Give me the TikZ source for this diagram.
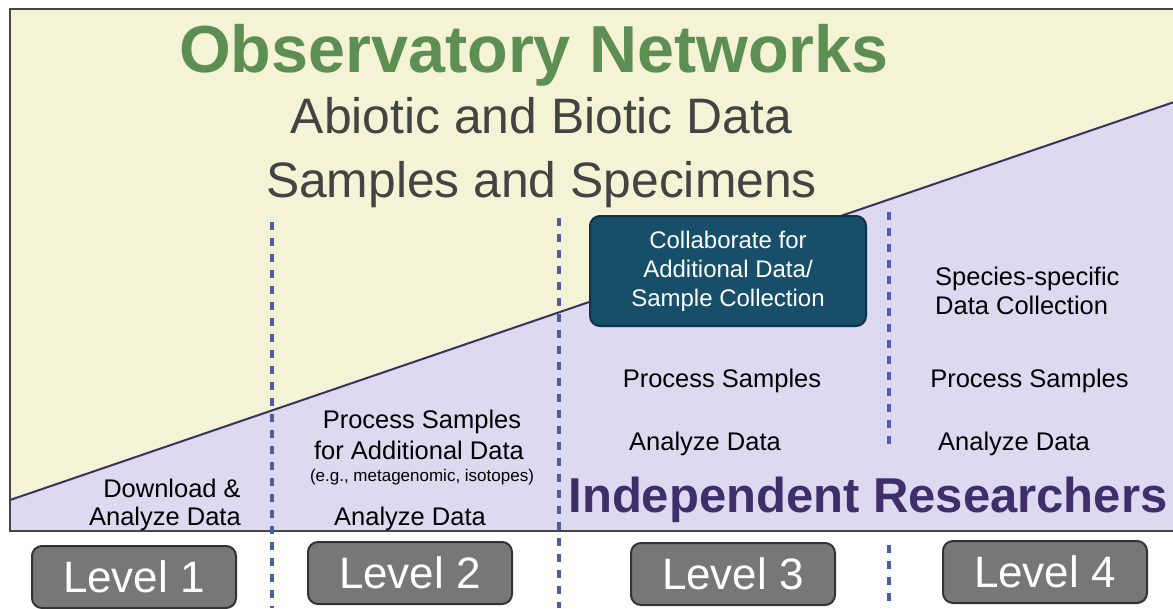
\documentclass[tikz,border=0pt]{standalone}
\usepackage{fontspec}
\setmainfont{Liberation Sans}
\usetikzlibrary{positioning}
\definecolor{cream}{HTML}{F4F3D5}
\definecolor{lavender}{HTML}{DCD9F1}
\definecolor{slopeline}{HTML}{38325F}
\definecolor{obsgreen}{HTML}{5E8F52}
\definecolor{subgray}{HTML}{434343}
\definecolor{indpurple}{HTML}{3E2E6A}
\definecolor{collabteal}{HTML}{174F6B}
\definecolor{collabedge}{HTML}{0E3346}
\definecolor{dividerblue}{HTML}{4A5DA6}
\definecolor{levelgray}{HTML}{777777}
\definecolor{framegray}{HTML}{454545}
\newcommand{\pxsize}[1]{\fontsize{#1}{#1}\selectfont}

\begin{document}
\begin{tikzpicture}[x=1pt,y=-1pt,
		body/.style={inner sep=0pt, anchor=base, font=\pxsize{25.5}},
		divider/.style={dividerblue, line width=3.5pt, dash pattern=on 8pt off 8pt},
		levelbox/.style={draw=black!80, line width=2pt, fill=levelgray, rounded corners=10pt,
			minimum width=204pt, minimum height=62pt, text=white, font=\pxsize{44}},
		collabbox/.style={draw=collabedge, line width=2pt, fill=collabteal, rounded corners=10pt,
			minimum width=276pt, minimum height=110pt, text=white, align=center,
			font=\fontsize{24}{29}\selectfont}]
	\useasboundingbox (0,0) rectangle (1173,608);
	\clip (0,0) rectangle (1173,608);
	\fill[white] (0,0) rectangle (1173,608);

	\coordinate (TL) at (10,9);
	\coordinate (TR) at (1180,9);
	\coordinate (SL) at (10,500);
	\coordinate (SR) at (1180,100);
	\coordinate (BL) at (10,531);
	\coordinate (BR) at (1180,531);

	\fill[cream] (TL)--(TR)--(SR)--(SL)--cycle;
	\fill[lavender] (SL)--(SR)--(BR)--(BL)--cycle;
	\draw[slopeline, line width=2pt] (SL)--(SR);
	\draw[framegray, line width=2pt] (TR)--(TL)--(BL)--(BR);

	\coordinate (d1top) at (272,222);
	\coordinate (d1bot) at (272,608);
	\coordinate (d2top) at (559,218);
	\coordinate (d2bot) at (559,608);
	\coordinate (d3top) at (889,212);
	\coordinate (d3mid) at (889,446);
	\coordinate (d3low) at (889,545);
	\coordinate (d3bot) at (889,602);
	\draw[divider] (d1top)--(d1bot) (d2top)--(d2bot) (d3top)--(d3mid) (d3low)--(d3bot);

	\node[body, text=obsgreen, font=\bfseries\pxsize{66.5}] (title) at (534,72) {Observatory Networks};
	\node[body, text=subgray, font=\pxsize{49.8}] (abiotic) at (541.5,133) {Abiotic and Biotic Data};
	\node[body, text=subgray, font=\pxsize{49.8}] (samples) at (541.5,197) {Samples and Specimens};

	\node[body, anchor=base east] (download) at (241,497) {Download \&};
	\node[body, anchor=base east] (analyze1) at (241,525) {Analyze Data};

	\node[body] (process2) at (422,428) {Process Samples};
	\node[body] (additional2) at (419,459) {for Additional Data};
	\node[body, font=\pxsize{17}] (eg2) at (422,481) {(e.g., metagenomic, isotopes)};
	\node[body] (analyze2) at (410,525) {Analyze Data};

	\node[collabbox] (collab) at (728,271) {Collaborate for\\Additional Data/\\Sample Collection};
	\node[body] (process3) at (722,387) {Process Samples};
	\node[body] (analyze3) at (705,450) {Analyze Data};

	\node[body, anchor=base west] (species) at (935,285) {Species-specific};
	\node[body, anchor=base west] (collection) at (935,314) {Data Collection};
	\node[body] (process4) at (1029.5,387) {Process Samples};
	\node[body] (analyze4) at (1014,450) {Analyze Data};

	\node[body, text=indpurple, font=\bfseries\pxsize{49}] (indep) at (868,512) {Independent Researchers};

	\foreach \n/\x/\y in {1/134/577, 2/410/573, 3/733/574, 4/1045/572}
		\node[levelbox] (level\n) at (\x,\y) {Level \n};
\end{tikzpicture}
\end{document}
